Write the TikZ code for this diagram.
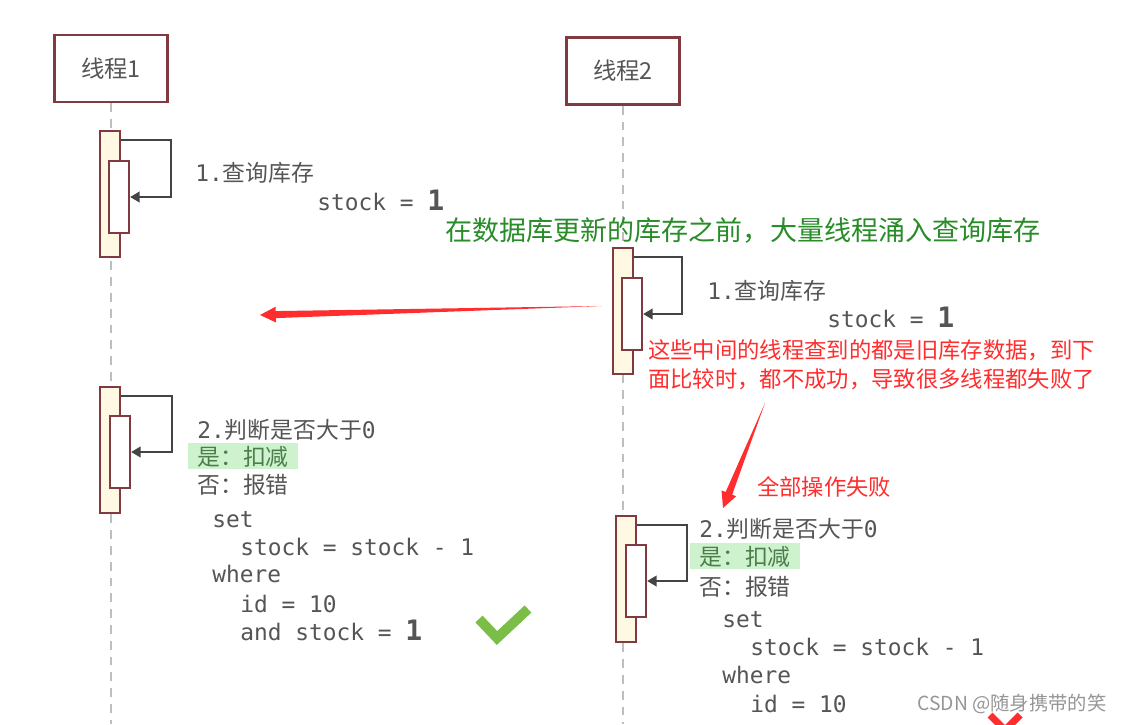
\documentclass[tikz,border=0pt]{standalone}
\usepackage{fontspec}
\usepackage{tikz}
\usetikzlibrary{arrows.meta,calc}
\newfontfamily\cjkfont{Noto Sans CJK SC}
\newfontfamily\codefont{DejaVu Sans Mono}
\definecolor{framered}{RGB}{128,58,64}
\definecolor{barfill}{RGB}{255,249,227}
\definecolor{textgray}{RGB}{85,85,85}
\definecolor{loopgray}{RGB}{68,68,68}
\definecolor{lifegray}{RGB}{190,190,190}
\definecolor{notegreen}{RGB}{40,140,40}
\definecolor{notered}{RGB}{255,45,45}
\definecolor{hlgreen}{RGB}{205,242,205}
\definecolor{yesgreen}{RGB}{75,125,75}
\definecolor{tickgreen}{RGB}{122,190,72}
\definecolor{markgray}{RGB}{150,150,150}

\begin{document}
\begin{tikzpicture}[
        x=0.02cm, y=-0.02cm,
        threadbox/.style={draw=framered, line width=1.4pt, fill=white, text=textgray, minimum width=2.26cm, minimum height=1.34cm, font=\cjkfont\fontsize{13.3}{16}\selectfont},
        outerbar/.style={draw=framered, line width=1.2pt, fill=barfill, inner sep=0pt, minimum width=0.4cm, minimum height=2.52cm},
        innerbar/.style={draw=framered, line width=1.2pt, fill=white, inner sep=0pt, minimum width=0.4cm, minimum height=1.44cm},
        selfloop/.style={draw=loopgray, line width=1.4pt, -{Triangle[length=5.5pt,width=6pt]}},
        lifeline/.style={draw=lifegray, line width=1pt, dash pattern=on 5pt off 4pt},
        stepnote/.style={anchor=base west, inner sep=0pt, text=textgray, font=\cjkfont\fontsize{13}{16}\selectfont},
        codeline/.style={anchor=base west, inner sep=0pt, text=textgray, font=\codefont\fontsize{13}{16}\selectfont},
        yesnote/.style={anchor=base west, fill=hlgreen, inner xsep=0.18cm, inner ysep=0.05cm, text=yesgreen, font=\cjkfont\fontsize{13}{16}\selectfont},
        greennote/.style={anchor=base west, inner sep=0pt, text=notegreen, font=\cjkfont\fontsize{15.4}{18}\selectfont},
        rednote/.style={anchor=base west, inner sep=0pt, text=notered, font=\cjkfont\fontsize{12.7}{16}\selectfont},
]
        \useasboundingbox (0,0) rectangle (1124,724);
        \clip (0,0) rectangle (1124,724);
        \fill[white] (0,0) rectangle (1124,724);

        % threads and lifelines
        \node[threadbox] (threadone) at (111,68.5) {线程1};
        \node[threadbox] (threadtwo) at (623,71) {线程2};
        \coordinate (lifeoneend) at (111,724);
        \coordinate (lifetwoend) at (623,724);
        \draw[lifeline] (threadone.south) -- (lifeoneend);
        \draw[lifeline] (threadtwo.south) -- (lifetwoend);

        % activation bars
        \node[outerbar] (queryonebar) at (110,194) {};
        \node[innerbar] (queryonein) at (119,197) {};
        \node[outerbar] (querytwobar) at (623,311) {};
        \node[innerbar] (querytwoin) at (632,314) {};
        \node[outerbar] (checkonebar) at (110,450) {};
        \node[innerbar] (checkonein) at (120,452) {};
        \node[outerbar] (checktwobar) at (626,579) {};
        \node[innerbar] (checktwoin) at (636,581) {};

        \draw[selfloop] ($(queryonebar.north east)+(0,10)$) -- ++(50,0) |- (queryonein.east);
        \draw[selfloop] ($(querytwobar.north east)+(0,10)$) -- ++(48,0) |- (querytwoin.east);
        \draw[selfloop] ($(checkonebar.north east)+(0,10)$) -- ++(51,0) |- (checkonein.east);
        \draw[selfloop] ($(checktwobar.north east)+(0,10)$) -- ++(50,0) |- (checktwoin.east);

        % thread 1 notes
        \node[stepnote] (queryone) at (195,181) {{\codefont 1.}查询库存};
        \node[codeline] (stockone) at (317,210) {stock = {\bfseries\fontsize{16}{16}\selectfont 1}};
        \node[stepnote] (judgeone) at (197,438) {{\codefont 2.}判断是否大于{\codefont 0}};
        \node[yesnote] (yesone) at (188,465) {是：扣减};
        \node[stepnote] (noone) at (197,493) {否：报错};
        \node[codeline] (setone) at (212,527) {set};
        \node[codeline] (minusone) at (240,555) {stock = stock - 1};
        \node[codeline] (whereone) at (212,582) {where};
        \node[codeline] (idone) at (240,612) {id = 10};
        \node[codeline] (andone) at (240,640) {and stock = {\bfseries\fontsize{16}{16}\selectfont 1}};
        \draw[tickgreen, line width=5.6pt] (479,619) -- (497,638) -- (528,609);

        % thread 2 notes
        \node[greennote] (rushnote) at (445,240) {在数据库更新的库存之前，大量线程涌入查询库存};
        \node[stepnote] (querytwo) at (707,299) {{\codefont 1.}查询库存};
        \node[codeline] (stocktwo) at (827,327) {stock = {\bfseries\fontsize{16}{16}\selectfont 1}};
        \node[rednote] (staleone) at (648,358) {这些中间的线程查到的都是旧库存数据，到下};
        \node[rednote] (staletwo) at (648,387) {面比较时，都不成功，导致很多线程都失败了};
        \node[rednote] (failnote) at (757,495) {全部操作失败};
        \node[stepnote] (judgetwo) at (699,537) {{\codefont 2.}判断是否大于{\codefont 0}};
        \node[yesnote] (yestwo) at (690,565) {是：扣减};
        \node[stepnote] (notwo) at (699,595) {否：报错};
        \node[codeline] (settwo) at (722,627) {set};
        \node[codeline] (minustwo) at (750,655) {stock = stock - 1};
        \node[codeline] (wheretwo) at (722,683) {where};
        \node[codeline] (idtwo) at (750,712) {id = 10};
        \draw[notered, line width=4pt] (990,715) -- (1020,745);
        \draw[notered, line width=4pt] (1020,715) -- (990,745);

        % red pointers
        \coordinate (stalefrom) at (602,306);
        \coordinate (staleto) at (260,315);
        \coordinate (stalebase) at ($(staleto)!9pt!(stalefrom)$);
        \fill[notered] (stalefrom) -- ($(stalebase)!2pt!90:(staleto)$) -- ($(stalebase)!4.5pt!90:(staleto)$) -- (staleto)
                -- ($(stalebase)!4.5pt!-90:(staleto)$) -- ($(stalebase)!2pt!-90:(staleto)$) -- cycle;
        \coordinate (failfrom) at (765,403);
        \coordinate (failto) at (723,508);
        \coordinate (failbase) at ($(failto)!9pt!(failfrom)$);
        \fill[notered] (failfrom) -- ($(failbase)!2pt!90:(failto)$) -- ($(failbase)!4.5pt!90:(failto)$) -- (failto)
                -- ($(failbase)!4.5pt!-90:(failto)$) -- ($(failbase)!2pt!-90:(failto)$) -- cycle;

        \node[anchor=base west, inner sep=0pt, text=markgray, font=\cjkfont\fontsize{11}{12}\selectfont] (watermark) at (917,710) {CSDN @随身携带的笑};
\end{tikzpicture}
\end{document}
